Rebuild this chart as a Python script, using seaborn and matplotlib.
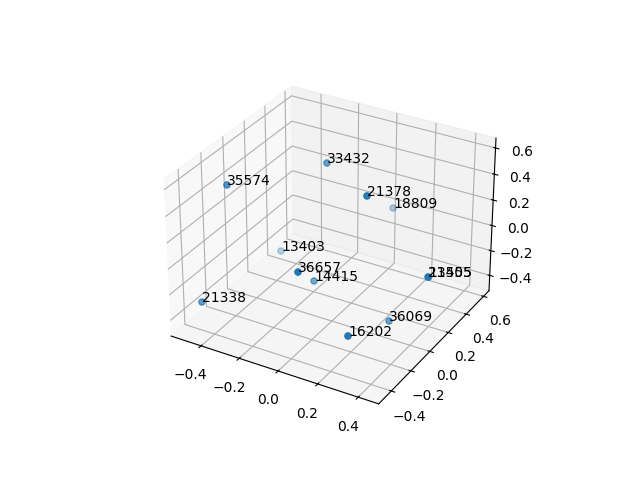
import seaborn as sns
import matplotlib
matplotlib.use('Agg')
import matplotlib.pyplot as plt

labels = ['35574', '33432', '21378', '18809', '13403', '36657',
          '14415', '21338', '16202', '36069', '21505', '13455']
xs = [-.391, -.105, .252, .025, -.416, .099, -.053, -.394, .340, .310, .486, .488]
ys = [-.263, .156, -.156, .588, .274, -.511, -.075, -.512, -.508, -.035, -.011, -.011]
zs = [.539, .558, .655, -.012, -.341, .268, -.176, -.186, -.099, -.350, .056, .056]

fig = plt.figure(figsize=(6.4, 4.8), dpi=100)
ax = fig.add_subplot(projection='3d')
ax.scatter(xs, ys, zs, color=sns.color_palette('tab10')[0])
for x, y, z, label in zip(xs, ys, zs, labels):
    ax.text(x, y, z, label)
ax.set_xlim(-.56, .50)
ax.set_ylim(-.525, .665)
ax.set_zlim(-.525, .675)
fig.savefig('out.png', dpi=100)
